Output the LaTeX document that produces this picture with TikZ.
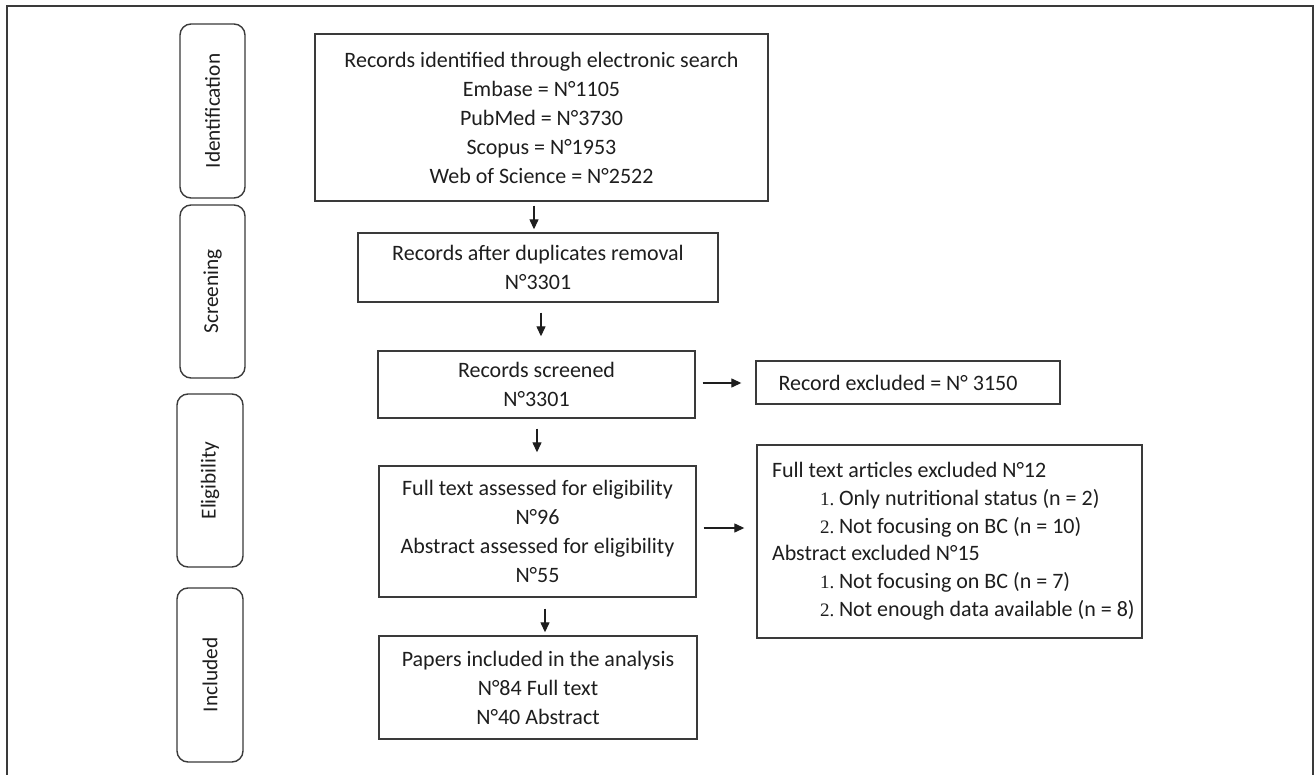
\documentclass[tikz,border=0pt]{standalone}
\usepackage{fontspec}
\setmainfont{Carlito}
\newfontfamily\numfont{Liberation Serif}
\usetikzlibrary{arrows.meta}
\definecolor{edge}{HTML}{3A3A3A}
\definecolor{ink}{HTML}{1E1E1E}
\newcommand{\itemno}[1]{\hspace*{48pt}\makebox[19pt][l]{\numfont\fontsize{19}{27.8}\selectfont #1}}
\begin{document}
\begin{tikzpicture}[x=1pt,y=-1pt,
  every node/.style={text=ink, font=\fontsize{22}{29}\selectfont},
  box/.style={draw=edge, line width=1.4pt, inner sep=0pt, align=center},
  stage/.style={draw=edge, line width=1.4pt, rounded corners=11pt, inner sep=0pt, rotate=90,
                font=\fontsize{21.3}{26}\selectfont},
  arr/.style={draw=ink, line width=1.3pt, -{Triangle[length=10pt,width=9pt]}}]
\useasboundingbox (0,0) rectangle (1316,775);
\fill[white] (0,0) rectangle (1316,775);
\draw[edge, line width=1.4pt] (7,776) -- (7,6) -- (1313,6) -- (1313,776);

% stage labels
\node[stage, minimum width=174pt, minimum height=65pt] (s1) at (212.5,111) {Identification};
\node[stage, minimum width=173pt, minimum height=65pt] (s2) at (212.5,291.5) {Screening};
\node[stage, minimum width=173pt, minimum height=66pt] (s3) at (210,480.5) {Eligibility};
\node[stage, minimum width=174pt, minimum height=66pt] (s4) at (210,675) {Included};

% main boxes
\node[box, minimum width=453pt, minimum height=167pt] (b1) at (541.5,117.5)
  {Records identified through electronic search\\ Embase = N°1105\\ PubMed = N°3730\\ Scopus = N°1953\\ Web of Science = N°2522};
\node[box, minimum width=360pt, minimum height=69pt] (b2) at (538,267.5)
  {Records after duplicates removal\\ N°3301};
\node[box, minimum width=317pt, minimum height=67pt] (b3) at (536.5,384.5)
  {Records screened\\ N°3301};
\node[box, minimum width=304pt, minimum height=43pt] (bx) at (908,382.5)
  {Record excluded = N° 3150\hspace*{20pt}};
\node[box, minimum width=317pt, minimum height=131pt] (b4) at (537.5,531.5)
  {Full text assessed for eligibility\\ N°96\\ Abstract assessed for eligibility\\ N°55};
\node[box, minimum width=318pt, minimum height=103pt] (b5) at (538,687.5)
  {Papers included in the analysis\\ N°84 Full text\\ N°40 Abstract};
\node[box, minimum width=385pt, minimum height=193pt,
      font=\fontsize{22}{27.8}\selectfont] (b6) at (949.5,541.5)
  {\makebox[385pt][l]{\hspace*{15pt}\raisebox{5pt}{\begin{tabular}{@{}l@{}}
   Full text articles excluded N°12\\
   \itemno{1.}Only nutritional status (n = 2)\\
   \itemno{2.}Not focusing on BC (n = 10)\\
   Abstract excluded N°15\\
   \itemno{1.}Not focusing on BC (n = 7)\\
   \itemno{2.}Not enough data available (n = 8)
   \end{tabular}}}};

% connectors
\draw[arr, shorten <=4pt, shorten >=3pt] ([xshift=-7.5pt]b1.south) -- ([xshift=-7.5pt]b1.south |- b2.north);
\draw[arr, shorten <=10pt, shorten >=14pt] ([xshift=3pt]b2.south) -- ([xshift=3pt]b2.south |- b3.north);
\draw[arr, shorten <=10pt, shorten >=13pt] ([xshift=0.5pt]b3.south) -- ([xshift=0.5pt]b3.south |- b4.north);
\draw[arr, shorten <=11pt, shorten >=3pt] ([xshift=7.5pt]b4.south) -- ([xshift=7.5pt]b4.south |- b5.north);
\draw[arr, shorten <=7pt, shorten >=14pt] ([yshift=1.5pt]b3.east) -- ([yshift=1.5pt]b3.east -| bx.west);
\draw[arr, shorten <=7pt, shorten >=12pt] ([yshift=3.5pt]b4.east) -- ([yshift=3.5pt]b4.east -| b6.west);
\end{tikzpicture}
\end{document}
